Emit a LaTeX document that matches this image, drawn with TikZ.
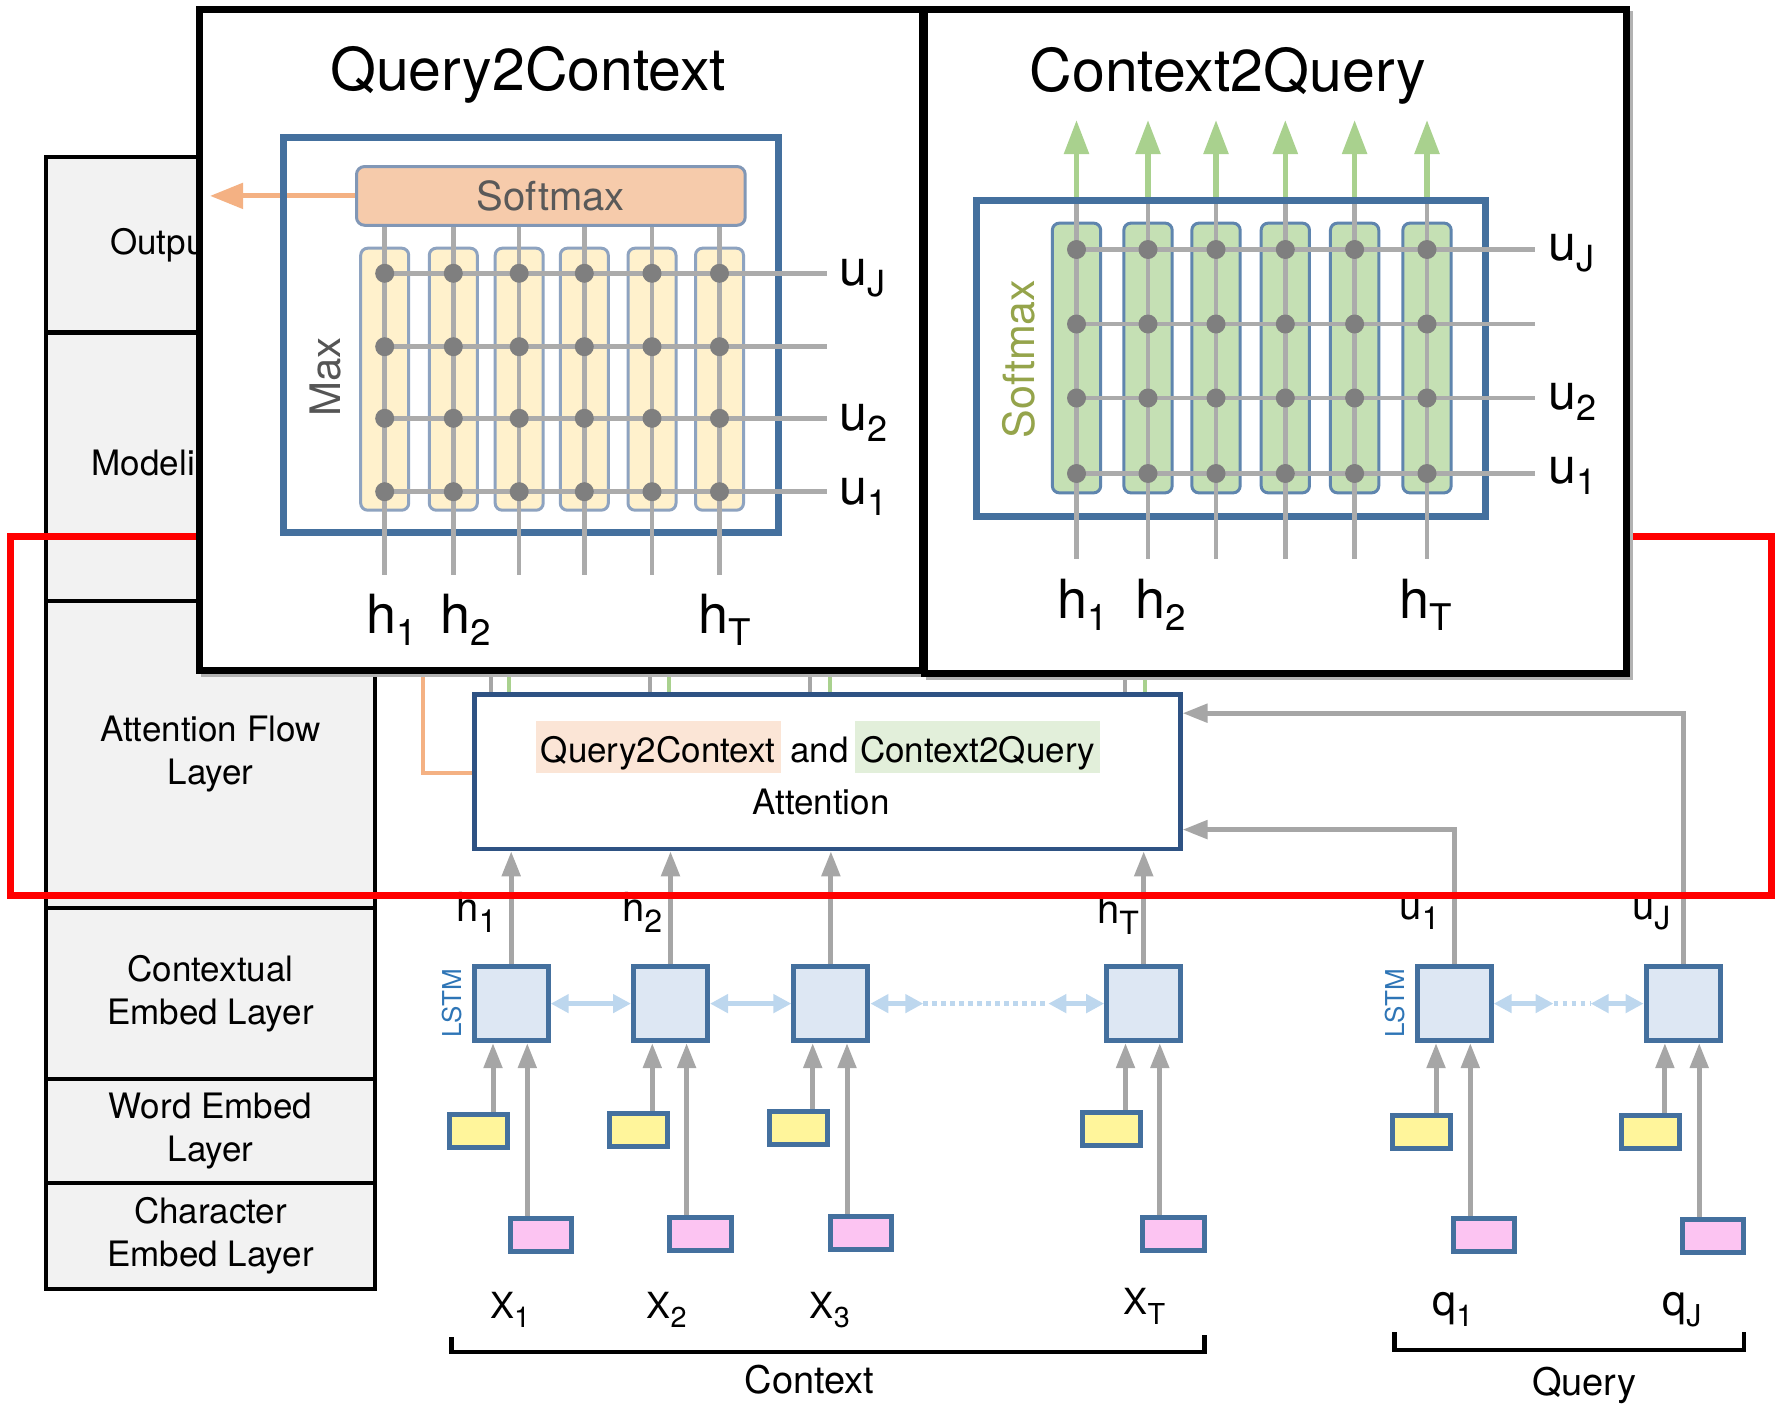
\documentclass[tikz,border=0pt]{standalone}
\usepackage{fontspec}
\setmainfont{TeX Gyre Heros}
\usetikzlibrary{arrows.meta}
\definecolor{layergray}{HTML}{F2F2F2}
\definecolor{boxblue}{HTML}{44709E}
\definecolor{attblue}{HTML}{2E5283}
\definecolor{lstmfill}{HTML}{DDE7F3}
\definecolor{yel}{HTML}{FFF59B}
\definecolor{pnk}{HTML}{FCC4F2}
\definecolor{garrow}{HTML}{A6A6A6}
\definecolor{lblue}{HTML}{BDD7EE}
\definecolor{orng}{HTML}{F4B183}
\definecolor{grn}{HTML}{A9D18E}
\definecolor{smfill}{HTML}{F6CBAB}
\definecolor{smdraw}{HTML}{8197B6}
\definecolor{colyel}{HTML}{FFF1CC}
\definecolor{colgrn}{HTML}{C5E0B4}
\definecolor{coldraw}{HTML}{8EA3C0}
\definecolor{colgdraw}{HTML}{5F85AE}
\definecolor{dotgray}{HTML}{7F7F7F}
\definecolor{gridgray}{HTML}{ABABAB}
\definecolor{hlorange}{HTML}{FBE5D6}
\definecolor{hlgreen}{HTML}{E2EFDA}
\definecolor{olivetxt}{HTML}{95A44B}
\definecolor{lstmtext}{HTML}{2E75B6}
\definecolor{maxgray}{HTML}{555555}
\definecolor{smtext}{HTML}{595959}
\definecolor{redline}{HTML}{FF0000}
\newcommand\fsz[2]{\fontsize{#1pt}{#2pt}\selectfont}
\newcommand\sbx[3]{\raisebox{-#1em}{\scalebox{#2}{#3}}}
\begin{document}
\begin{tikzpicture}[x=1pt,y=-1pt,
  layer/.style={draw=black, line width=4.5pt, fill=layergray, minimum width=329pt, align=center, font=\fsz{35}{43}, inner sep=0pt},
  frame/.style={draw=black, line width=7pt, fill=white, inner sep=0pt},
  innerbox/.style={draw=boxblue, line width=7pt, inner sep=0pt},
  lstm/.style={draw=boxblue, fill=lstmfill, line width=5pt, minimum size=74pt, inner sep=0pt},
  wbox/.style={draw=boxblue, fill=yel, line width=5pt, minimum width=58pt, minimum height=33pt, inner sep=0pt},
  cbox/.style={draw=boxblue, fill=pnk, line width=5pt, minimum width=61.5pt, minimum height=33pt, inner sep=0pt},
  garr/.style={draw=garrow, line width=5pt, -{Triangle[length=25pt,width=18pt]}},
  barr/.style={draw=lblue, line width=5pt, {Triangle[length=18pt,width=18pt]}-{Triangle[length=18pt,width=18pt]}},
  bdots/.style={draw=lblue, line width=5pt, dash pattern=on 4.5pt off 4.5pt},
  gline/.style={draw=gridgray, line width=4.5pt},
  stub/.style={line width=4pt},
  gdot/.style={circle, fill=dotgray, minimum size=19pt, inner sep=0pt},
  yelcol/.style={draw=coldraw, fill=colyel, line width=3pt, rounded corners=7pt, minimum width=48pt, minimum height=262pt, inner sep=0pt},
  grncol/.style={draw=colgdraw, fill=colgrn, line width=3pt, rounded corners=7pt, minimum width=48.3pt, minimum height=269.7pt, inner sep=0pt},
  lbl/.style={inner sep=0pt, anchor=base west},
  bigh/.style={lbl, font=\fsz{54}{60}},
  bigu/.style={lbl, font=\fsz{50}{60}},
  midh/.style={lbl, font=\fsz{40}{48}},
  inl/.style={lbl, font=\fsz{36}{44}},
  ql/.style={lbl, font=\fsz{43}{50}},
  title/.style={lbl, font=\fsz{59}{70}},
  bracket/.style={draw=black, line width=4.5pt}
]
\useasboundingbox (0,0) rectangle (1775,1405);

% ---------- layer column ----------
\node[layer, minimum height=175.7pt] (outl) at (210.5,244.9) {Output Layer};
\node[layer, minimum height=268.1pt] (modl) at (210.5,466.7) {Modeling Layer};
\node[layer, minimum height=307.2pt] (attl) at (210.5,754.4) {Attention Flow\\Layer};
\node[layer, minimum height=171pt] (ctxl) at (210.5,993.5) {Contextual\\Embed Layer};
\node[layer, minimum height=104pt] (wrdl) at (210.5,1131) {Word Embed\\Layer};
\node[layer, minimum height=106pt] (chrl) at (210.5,1236) {Character\\Embed Layer};

% ---------- attention box ----------
\node[draw=attblue, line width=4.5pt, minimum width=706pt, minimum height=154.4pt, inner sep=0pt] (att) at (827.25,771.8) {};
\node[lbl, font=\fsz{35}{42}, fill=hlorange, text height=41pt, text depth=11pt, inner xsep=5pt] (qch) at (535.6,762) {Query2Context};
\node[lbl, font=\fsz{35}{42}] (andw) at (790,762) {and};
\node[lbl, font=\fsz{35}{42}, fill=hlgreen, text height=41pt, text depth=11pt, inner xsep=5pt] (cqh) at (855,762) {Context2Query};
\node[anchor=base, inner sep=0pt, font=\fsz{35}{42}] (attw) at (821,814.4) {Attention};

% stubs between attention box and the Query2Context panel
\foreach \k/\gx/\nx in {1/490.8/509.2, 2/650.4/668.8, 3/810/829.5, 4/1125.4/1145.4} {
  \coordinate (sg\k) at (\gx,660);
  \coordinate (sn\k) at (\nx,660);
  \draw[stub, draw=garrow] (sg\k) -- (sg\k |- att.north);
  \draw[stub, draw=grn] (sn\k) -- (sn\k |- att.north);
}
% orange connector
\coordinate (ot) at (423,660);
\coordinate (oc) at (423,773);
\draw[draw=orng, line width=4.5pt] (ot) -- (oc) -- (att.west |- oc);

% ---------- LSTMs and embeddings ----------
\foreach \k/\cx/\yy/\py in {1/511.2/1131/1235, 2/670.5/1130/1234, 3/830.9/1128/1232.5, T/1143.7/1129/1233.6, q1/1454.2/1131.5/1235, qJ/1683.1/1132/1236} {
  \node[lstm] (l\k) at (\cx,1003.6) {};
  \node[wbox] (w\k) at (\cx-32.5,\yy) {};
  \node[cbox] (c\k) at (\cx+30,\py) {};
  \path ([xshift=-18.2pt]l\k.south) coordinate (wa\k) ([xshift=16.1pt]l\k.south) coordinate (ca\k);
  \draw[garr] (wa\k |- w\k.north) -- (wa\k);
  \draw[garr] (ca\k |- c\k.north) -- (ca\k);
}
\node[rotate=90, inner sep=0pt, font=\fsz{26}{30}, text=lstmtext] (lstmA) at (451.7,1003.3) {LSTM};
\node[rotate=90, inner sep=0pt, font=\fsz{26}{30}, text=lstmtext] (lstmB) at (1395,1003.3) {LSTM};

% bidirectional links
\coordinate (d1) at (923.3,1003.6);
\coordinate (d2) at (1048.3,1003.6);
\coordinate (d3) at (1553.5,1003.6);
\coordinate (d4) at (1590.6,1003.6);
\draw[barr] (l1.east) -- (l2.west);
\draw[barr] (l2.east) -- (l3.west);
\draw[barr] (l3.east) -- (d1);
\draw[bdots] (d1) -- (d2);
\draw[barr] (d2) -- (lT.west);
\draw[barr] (lq1.east) -- (d3);
\draw[bdots] (d3) -- (d4);
\draw[barr] (d4) -- (lqJ.west);

% up arrows into attention box
\foreach \k in {1,2,3,T} {
  \draw[garr] (l\k.north) -- (l\k.north |- att.south);
}
\coordinate (rq1) at (1454.2,829.6);
\coordinate (rqJ) at (1683.1,713.2);
\draw[garr] (lq1.north) -- (rq1) -- (att.east |- rq1);
\draw[garr] (lqJ.north) -- (rqJ) -- (att.east |- rqJ);

% labels on the arrows
\node[midh] (lh1) at (456.5,921.3) {h\sbx{0.27}{0.8}{1}};
\node[midh] (lh2) at (622,921.3) {h\sbx{0.27}{0.8}{2}};
\node[midh] (lhT) at (1097,923.7) {h\sbx{0.27}{0.8}{T}};
\node[midh] (lu1) at (1399.5,919) {u\sbx{0.27}{0.8}{1}};
\node[midh] (luJ) at (1632,919) {u\sbx{0.27}{0.8}{J}};

% input labels
\node[inl] (x1) at (489.8,1318) {X\sbx{0.27}{0.8}{1}};
\node[inl] (x2) at (646.5,1318) {X\sbx{0.27}{0.8}{2}};
\node[inl] (x3) at (809.6,1318) {X\sbx{0.27}{0.8}{3}};
\node[inl] (xT) at (1123.3,1314.6) {X\sbx{0.27}{0.8}{T}};
\node[ql] (q1) at (1432.3,1315.6) {q\sbx{0.26}{0.7}{1}};
\node[ql] (qJ) at (1662.3,1315.6) {q\sbx{0.26}{0.7}{J}};

% brackets
\coordinate (cb1) at (451.5,1337);
\coordinate (cb2) at (451.5,1352);
\coordinate (cb3) at (1204.5,1352);
\coordinate (cb4) at (1204.5,1335);
\draw[bracket] (cb1) -- (cb2) -- (cb3) -- (cb4);
\coordinate (qb1) at (1394.3,1332);
\coordinate (qb2) at (1394.3,1350);
\coordinate (qb3) at (1744.2,1350);
\coordinate (qb4) at (1744.2,1332);
\draw[bracket] (qb1) -- (qb2) -- (qb3) -- (qb4);
\node[anchor=base, inner sep=0pt, font=\fsz{38}{44}] (ctxw) at (809.5,1393.9) {Context};
\node[anchor=base, inner sep=0pt, font=\fsz{38}{44}] (qryw) at (1584.3,1395) {Query};

% ---------- red frame ----------
\draw[draw=redline, line width=7pt] (10.3,536.3) rectangle (1771.5,895);

% ---------- Query2Context and Context2Query panels ----------
\draw[draw=black!30, line width=5pt] (203.5,14) rectangle (926,674.5);
\draw[draw=black!30, line width=5pt] (928,14) rectangle (1630,677);
\node[frame, minimum width=722.5pt, minimum height=660.5pt] (q2c) at (560.75,340.25) {};
\node[frame, minimum width=702pt, minimum height=663pt] (c2q) at (1275,341.5) {};

% --- Query2Context ---
\node[title] (q2ct) at (330,91) {Query2Context};
\node[draw=smdraw, fill=smfill, line width=3pt, rounded corners=8pt, minimum width=388.7pt, minimum height=58.7pt, inner sep=0pt, font=\fsz{40}{48}, text=smtext] (smx) at (550.85,195.9) {Softmax};
\coordinate (otip) at (210,195.9);
\draw[draw=orng, line width=5pt, -{Triangle[length=33pt,width=25pt]}] (smx.west) -- (otip);
\node[innerbox, minimum width=494.3pt, minimum height=394.8pt] (qin) at (530.85,335.1) {};
\foreach \i/\x in {1/384.7,2/453.3,3/519.2,4/584.3,5/652,6/719.5} {
  \node[yelcol] (qc\i) at (\x,379.2) {};
}
\coordinate (qbot) at (0,575);
\foreach \i in {1,...,6} {
  \draw[gline] (qc\i |- smx.south) -- (qc\i |- qbot);
}
\foreach \j/\y in {J/273.3, m/346.7, 2/418.3, 1/491.7} {
  \coordinate (qr\j) at (384.7,\y);
  \coordinate (qe\j) at (827,\y);
  \draw[gline] (qr\j) -- (qe\j);
}
\foreach \i in {1,...,6} {
  \foreach \j in {J,m,2,1} {
    \node[gdot] at (qc\i |- qr\j) {};
  }
}
\node[bigu] (qluJ) at (839.2,285.8) {u\sbx{0.22}{0.72}{J}};
\node[bigu] (qlu2) at (839.2,430.8) {u\sbx{0.22}{0.72}{2}};
\node[bigu] (qlu1) at (839.2,504.2) {u\sbx{0.22}{0.72}{1}};
\node[bigh] (qlh1) at (366,633) {h\sbx{0.24}{0.68}{1}};
\node[bigh] (qlh2) at (440.6,633) {h\sbx{0.24}{0.68}{2}};
\node[bigh] (qlhT) at (698,633) {h\sbx{0.24}{0.68}{T}};
\node[rotate=90, inner sep=0pt, font=\fsz{42}{50}, text=maxgray] (maxw) at (326,376.7) {Max};

% --- Context2Query ---
\node[title] (c2qt) at (1029.5,92) {Context2Query};
\node[innerbox, minimum width=508.3pt, minimum height=315.3pt] (cin) at (1230.85,358.35) {};
\foreach \i/\x in {1/1076.5,2/1148,3/1216,4/1285.3,5/1354.6,6/1427} {
  \coordinate (ga\i) at (\x,120);
  \draw[draw=grn, line width=5.5pt, -{Triangle[length=34pt,width=24pt]}] (ga\i |- cin.north) -- (ga\i);
  \node[grncol] (cc\i) at (\x,358) {};
}
\coordinate (cintop) at (0,204.2);
\coordinate (cbot) at (0,559.4);
\foreach \i in {1,...,6} {
  \draw[gline] (cc\i |- cintop) -- (cc\i |- cbot);
}
\foreach \j/\y in {J/249.5, m/324, 2/398, 1/473.5} {
  \coordinate (cr\j) at (1076.5,\y);
  \coordinate (ce\j) at (1534.5,\y);
  \draw[gline] (cr\j) -- (ce\j);
}
\foreach \i in {1,...,6} {
  \foreach \j in {J,m,2,1} {
    \node[gdot] at (cc\i |- cr\j) {};
  }
}
\node[bigu] (cluJ) at (1548,260) {u\sbx{0.22}{0.72}{J}};
\node[bigu] (clu2) at (1548,409.8) {u\sbx{0.22}{0.72}{2}};
\node[bigu] (clu1) at (1548,483.5) {u\sbx{0.22}{0.72}{1}};
\node[bigh] (clh1) at (1057.7,618) {h\sbx{0.24}{0.68}{1}};
\node[bigh] (clh2) at (1135,618) {h\sbx{0.24}{0.68}{2}};
\node[bigh] (clhT) at (1399.6,618) {h\sbx{0.24}{0.68}{T}};
\node[rotate=90, inner sep=0pt, font=\fsz{43}{50}, text=olivetxt] (smw) at (1019,359) {Softmax};
\end{tikzpicture}
\end{document}
